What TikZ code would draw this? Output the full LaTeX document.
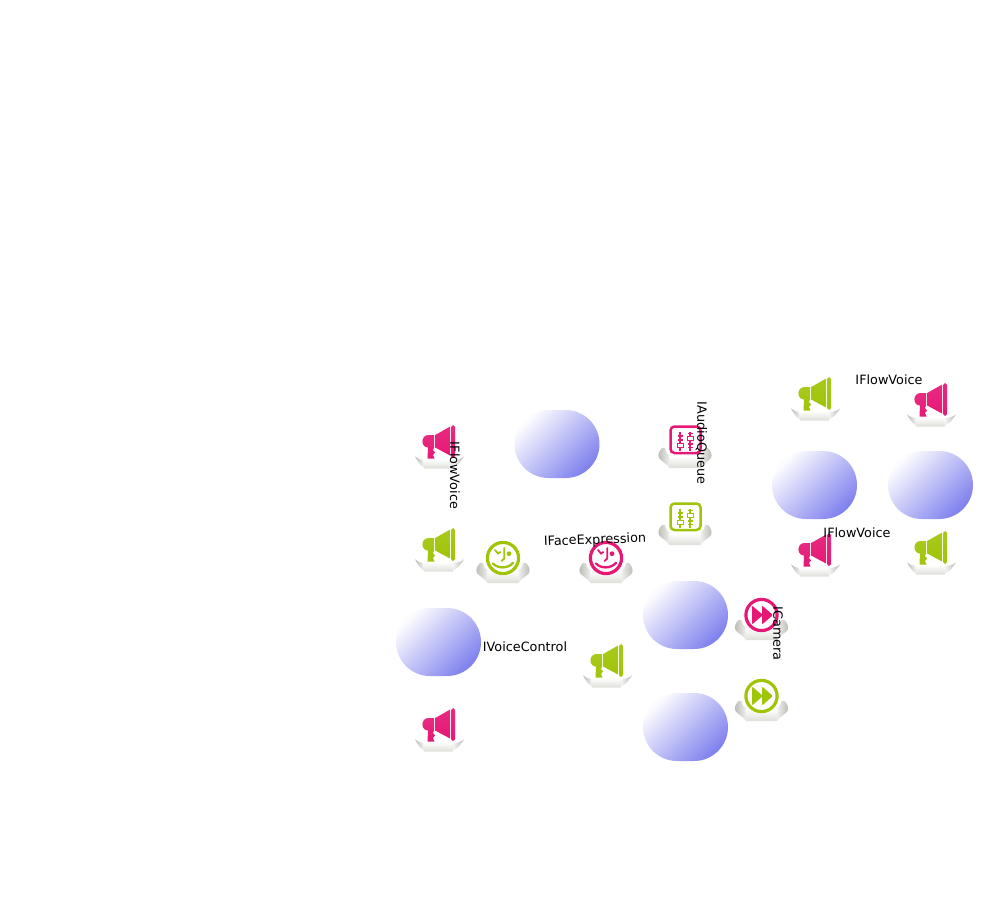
\documentclass[tikz,border=0pt]{standalone}
\usepackage{fontspec}
\setmainfont{DejaVu Sans}
\usepackage{xcolor}
\definecolor{ColPink}{RGB}{230,24,118}
\definecolor{ColGreen}{RGB}{160,196,8}
\definecolor{ColBlob}{RGB}{128,130,238}
\definecolor{ColWing}{RGB}{185,185,180}
\definecolor{ColFoot}{RGB}{222,222,216}
\usetikzlibrary{shapes}
\tikzstyle{BlobFill}=[top color=ColBlob!2,bottom color=ColBlob,shading angle=45]
\tikzstyle{Label}=[font=\fontsize{12.8}{14}\selectfont,inner sep=0pt]
\tikzstyle{WingL}=[left color=ColWing,right color=white]
\tikzstyle{WingR}=[left color=white,right color=ColWing]
\tikzstyle{Foot}=[top color=white,bottom color=ColFoot]
\tikzset{
  Blob/.pic={
    \path[BlobFill](8.5,-34)..controls(27.3,-34)and(42.5,-18.8)..(42.5,0)
      ..controls(42.5,18.8)and(27.3,34)..(8.5,34)--(-8.5,34)
      ..controls(-27.3,34)and(-42.5,18.8)..(-42.5,0)
      ..controls(-42.5,-18.8)and(-27.3,-34)..(-8.5,-34)--cycle;
  },
  Megaphone/.pic={
    \path[WingL](-26,9.3)..controls(-23,12)and(-20,13)..(-15,13)--(-15,21)--(-18,20)
      ..controls(-21,18)and(-24,13)..(-26,9.3)--cycle;
    \path[WingR](23,9.3)..controls(20,12)and(16,13)..(10,13)--(10,21)--(13,20)
      ..controls(17,18)and(20,14)..(23,9.3)--cycle;
    \path[Foot](-17.5,12)--(12.5,12)--(12,21.7)--(-17,21.7)--cycle;
    \path[top color=#1!92!white,bottom color=#1](-7,-12)--(-12.5,-12)
      ..controls(-20.5,-12)and(-20.5,0.5)..(-13,0.5)
      --(-13.5,11.5)--(-6.5,11.5)--(-8,8)--(-6,5.5)--(-8,3)--(-7,0.5)--cycle;
    \path[top color=#1!92!white,bottom color=#1](-5.8,-12)--(9.2,-20.5)--(9.2,8.6)--(-5.8,0.5)--cycle;
    \path[top color=#1!92!white,bottom color=#1,rounded corners=1.8pt](10.2,-22)rectangle(14,11);
  },
  PedestalBig/.pic={
    \path[WingL](-23,5)..controls(-26,8)and(-27.5,12)..(-26,15)..controls(-24,18)and(-19,20)..(-15.5,25)
      --(-12,25)--(-12,13)..controls(-17,13)and(-19,10)..(-20,5)--cycle;
    \path[WingR](23,5)..controls(26,8)and(27.5,12)..(26,15)..controls(24,18)and(19,20)..(15.5,25)
      --(12,25)--(12,13)..controls(17,13)and(19,10)..(20,5)--cycle;
    \path[Foot](-16,13)--(16,13)--(15.5,25)--(-15.5,25)--cycle;
  },
  Smiley/.pic={
    \pic{PedestalBig};
    \path[draw=#1,fill=white,line width=3.2pt](0,0)circle(15.6);
    \draw[#1,line width=2.3pt,line cap=round](-10,5.5)..controls(-5,10.8)and(5,10.8)..(10,4.8);
    \draw[#1,line width=1.8pt,line cap=round](-8,-8)--(-5,-4.5)--(-2.7,-6);
    \draw[#1,line width=1.8pt,line cap=round](1.3,-10)--(1.3,0.5)--(-1.5,3);
    \path[fill=#1](6,-4.3)circle(2.4);
  },
  Faders/.pic={
    \pic{PedestalBig};
    \path[draw=#1,fill=white,line width=2.5pt,rounded corners=4pt](-14.5,-16.5)rectangle(15.5,10);
    \draw[#1,line width=1.8pt](-4.7,-11)--(-4.7,7.5);
    \draw[#1,line width=1.8pt](5.3,-11)--(5.3,7.5);
    \draw[#1,line width=1.2pt](-7,-7)--(-2.4,-7)(-7,-3)--(-2.4,-3)(3,-9.5)--(7.6,-9.5)
      (3,1)--(7.6,1)(3,4.5)--(7.6,4.5);
    \path[draw=#1,fill=white,line width=1.3pt](-7.7,0.3)rectangle(-1.7,4.3);
    \path[draw=#1,fill=white,line width=1.3pt](2.3,-6.3)rectangle(8.3,-2.3);
  },
  FastForward/.pic={
    \pic{PedestalBig};
    \path[draw=#1,fill=white,line width=3.2pt](0,0)circle(15.6);
    \path[fill=#1,rounded corners=1pt](-9.5,-9.5)--(1.5,0)--(-9.5,9.5)--cycle;
    \path[fill=#1,rounded corners=1pt](0.5,-9.5)--(11.5,0)--(0.5,9.5)--cycle;
  },
}
\begin{document}
\begin{tikzpicture}[x=1pt,y=-1pt]
    \useasboundingbox(0,0)rectangle(989,911);
    % spheres
    \pic(blobA)at(557,444){Blob};
    \pic(blobB)at(814.5,485){Blob};
    \pic(blobC)at(930.5,485){Blob};
    \pic(blobD)at(685.5,615){Blob};
    \pic(blobE)at(685.5,727){Blob};
    \pic(blobF)at(438.5,642){Blob};
    % ports
    \pic(voiceA)at(441,447){Megaphone=ColPink};
    \pic(voiceB)at(441,550){Megaphone=ColGreen};
    \pic(voiceC)at(441,730){Megaphone=ColPink};
    \pic(voiceD)at(609,666){Megaphone=ColGreen};
    \pic(voiceE)at(817,399){Megaphone=ColGreen};
    \pic(voiceF)at(933,405){Megaphone=ColPink};
    \pic(voiceG)at(817,555){Megaphone=ColPink};
    \pic(voiceH)at(933,553){Megaphone=ColGreen};
    \pic(faceA)at(503,558){Smiley=ColGreen};
    \pic(faceB)at(606,558){Smiley=ColPink};
    \pic(audioA)at(685,443){Faders=ColPink};
    \pic(audioB)at(685,520){Faders=ColGreen};
    \pic(camA)at(761.5,615){FastForward=ColPink};
    \pic(camB)at(761.5,696){FastForward=ColGreen};
    % labels
    \node[Label,rotate=-90](lblA)at(455,475.5){IFlowVoice};
    \node[Label,rotate=-90](lblB)at(701.5,443){IAudioQueue};
    \node[Label,rotate=-90](lblC)at(778,633.5){ICamera};
    \node[Label,rotate=2](lblD)at(595,540.5){IFaceExpression};
    \node[Label](lblE)at(525,647){IVoiceControl};
    \node[Label](lblF)at(889,380){IFlowVoice};
    \node[Label](lblG)at(857,533){IFlowVoice};
\end{tikzpicture}
\end{document}
